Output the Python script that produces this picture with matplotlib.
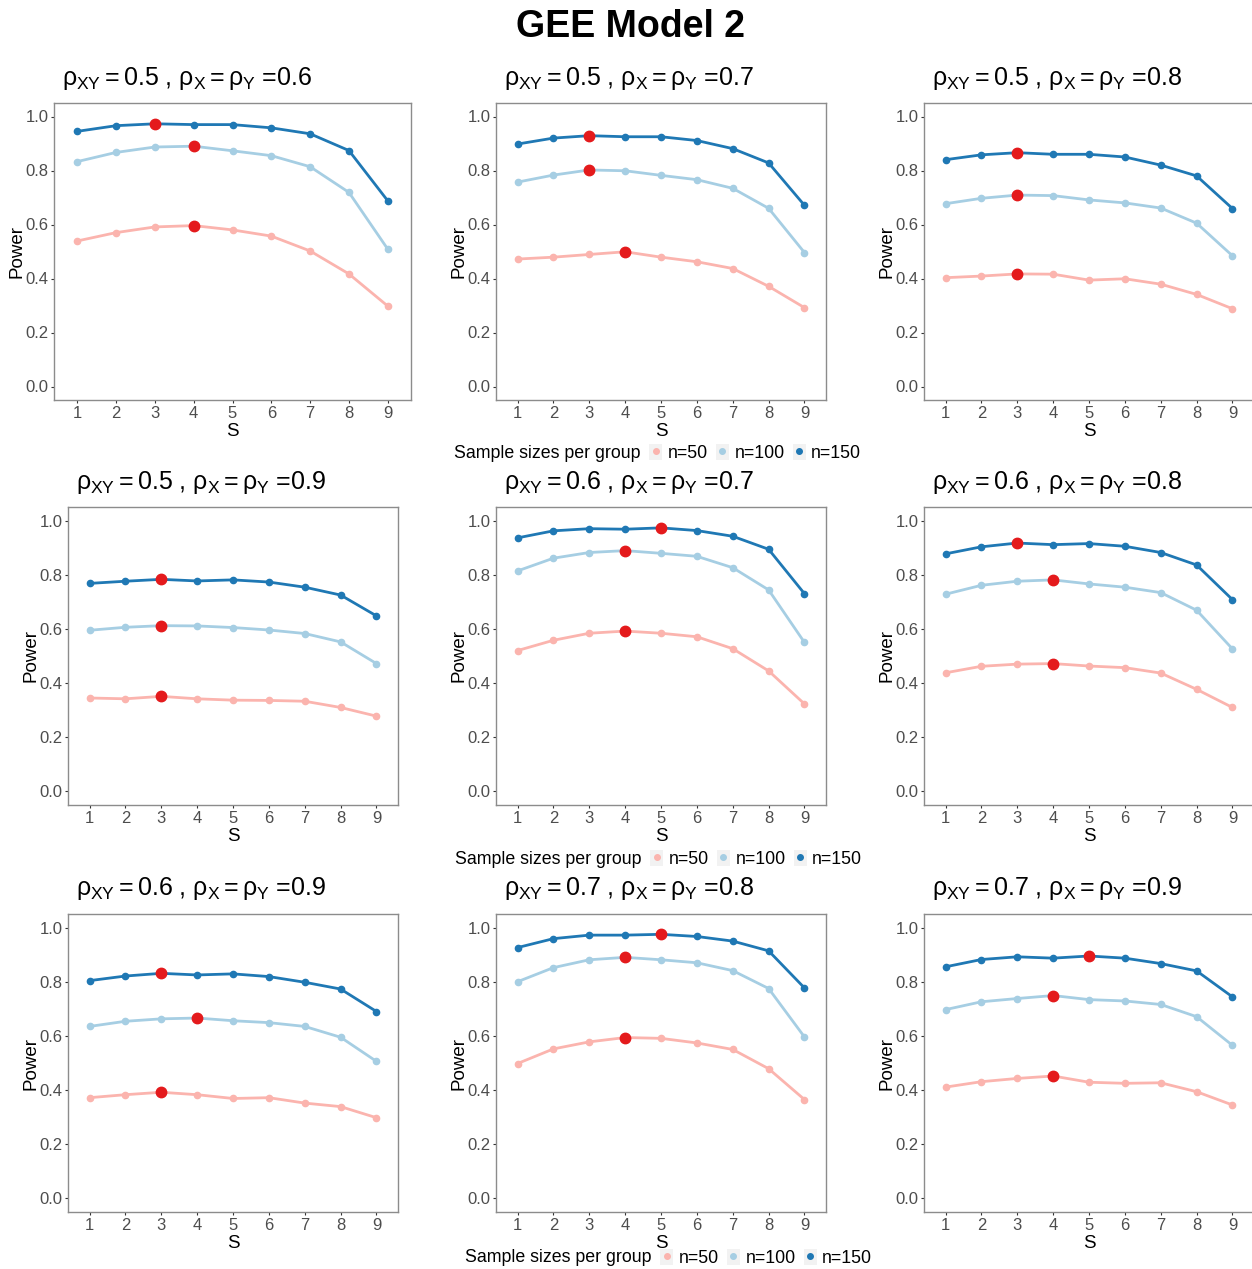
import matplotlib
matplotlib.use('Agg')
import matplotlib.pyplot as plt
from matplotlib.lines import Line2D
from matplotlib.patches import Patch
from matplotlib.legend_handler import HandlerTuple
import numpy as np

plt.rcParams['font.family'] = ['Liberation Sans', 'DejaVu Sans']
plt.rcParams['mathtext.fontset'] = 'custom'
plt.rcParams['mathtext.rm'] = 'Liberation Sans'
plt.rcParams['mathtext.it'] = 'Liberation Sans'
plt.rcParams['mathtext.bf'] = 'Liberation Sans:bold'

# data
S = [1, 2, 3, 4, 5, 6, 7, 8, 9]
sample_labels = ['n=50', 'n=100', 'n=150']
rho_xy = ['0.5', '0.5', '0.5', '0.5', '0.6', '0.6', '0.6', '0.7', '0.7']
rho_x = ['0.6', '0.7', '0.8', '0.9', '0.7', '0.8', '0.9', '0.8', '0.9']

power_n50 = [
    [0.539, 0.570, 0.591, 0.596, 0.580, 0.557, 0.502, 0.417, 0.298],
    [0.472, 0.479, 0.489, 0.499, 0.479, 0.462, 0.437, 0.371, 0.292],
    [0.403, 0.409, 0.417, 0.416, 0.394, 0.399, 0.379, 0.341, 0.288],
    [0.345, 0.342, 0.351, 0.342, 0.337, 0.336, 0.333, 0.310, 0.278],
    [0.520, 0.558, 0.584, 0.592, 0.584, 0.571, 0.527, 0.445, 0.323],
    [0.438, 0.462, 0.470, 0.472, 0.463, 0.457, 0.437, 0.377, 0.310],
    [0.372, 0.383, 0.392, 0.383, 0.369, 0.372, 0.352, 0.339, 0.298],
    [0.498, 0.552, 0.578, 0.594, 0.591, 0.574, 0.550, 0.479, 0.365],
    [0.411, 0.431, 0.443, 0.452, 0.429, 0.425, 0.427, 0.394, 0.345],
]
power_n100 = [
    [0.833, 0.867, 0.887, 0.890, 0.873, 0.855, 0.814, 0.719, 0.509],
    [0.757, 0.783, 0.802, 0.799, 0.782, 0.766, 0.734, 0.660, 0.496],
    [0.677, 0.697, 0.709, 0.707, 0.691, 0.680, 0.661, 0.605, 0.484],
    [0.595, 0.606, 0.612, 0.611, 0.605, 0.596, 0.583, 0.552, 0.472],
    [0.814, 0.861, 0.882, 0.889, 0.879, 0.868, 0.826, 0.744, 0.550],
    [0.728, 0.761, 0.776, 0.781, 0.766, 0.754, 0.734, 0.669, 0.526],
    [0.635, 0.654, 0.663, 0.666, 0.656, 0.649, 0.635, 0.595, 0.506],
    [0.800, 0.852, 0.881, 0.890, 0.881, 0.870, 0.841, 0.775, 0.596],
    [0.697, 0.726, 0.738, 0.749, 0.734, 0.729, 0.716, 0.671, 0.565],
]
power_n150 = [
    [0.945, 0.966, 0.973, 0.970, 0.970, 0.958, 0.936, 0.874, 0.688],
    [0.898, 0.920, 0.929, 0.925, 0.925, 0.911, 0.881, 0.828, 0.671],
    [0.840, 0.858, 0.866, 0.860, 0.860, 0.850, 0.820, 0.780, 0.659],
    [0.768, 0.776, 0.783, 0.777, 0.781, 0.773, 0.754, 0.725, 0.648],
    [0.936, 0.962, 0.970, 0.968, 0.973, 0.963, 0.942, 0.894, 0.730],
    [0.877, 0.903, 0.917, 0.911, 0.915, 0.905, 0.882, 0.836, 0.708],
    [0.804, 0.821, 0.831, 0.825, 0.829, 0.819, 0.798, 0.773, 0.690],
    [0.926, 0.959, 0.972, 0.972, 0.975, 0.967, 0.950, 0.914, 0.777],
    [0.855, 0.882, 0.892, 0.887, 0.895, 0.887, 0.867, 0.840, 0.744],
]
# S value highlighted in red for each panel (n=50, n=100, n=150)
best_S = [
    [4, 4, 3], [4, 3, 3], [3, 3, 3],
    [3, 3, 3], [4, 4, 5], [4, 4, 3],
    [3, 4, 3], [4, 4, 5], [4, 4, 5],
]

colors = ['#FBB4AE', '#A6CEE3', '#1F78B4']
highlight = '#E41A1C'

W, H = 1252, 1269
fig = plt.figure(figsize=(W / 100, H / 100), dpi=100)

def px_axes(left, top, right, bottom):
    return fig.add_axes([left / W, 1 - bottom / H, (right - left) / W, (bottom - top) / H])

# panel boxes in pixels: left, top, right, bottom
boxes = [
    (54, 103, 411, 400), (496, 103, 826, 400), (924, 103, 1254, 400),
    (68, 507, 398, 805), (496, 507, 826, 805), (924, 507, 1254, 805),
    (68, 914, 398, 1212), (496, 914, 826, 1212), (924, 914, 1254, 1212),
]

for i, box in enumerate(boxes):
    ax = px_axes(*box)
    series = [power_n50[i], power_n100[i], power_n150[i]]
    for k, y in enumerate(series):
        ax.plot(S, y, color=colors[k], lw=2.0, marker='o', ms=4.5, zorder=2 + k)
    for k, y in enumerate(series):
        j = S.index(best_S[i][k])
        ax.plot(S[j], y[j], 'o', color=highlight, ms=7.5, zorder=6)
    ax.set_xlim(0.4, 9.6)
    ax.set_ylim(-0.05, 1.05)
    ax.set_xticks(S)
    ax.set_yticks([0.0, 0.2, 0.4, 0.6, 0.8, 1.0])
    ax.set_yticklabels(['0.0', '0.2', '0.4', '0.6', '0.8', '1.0'])
    ax.tick_params(length=2.5, width=0.8, color='#333333', labelsize=12,
                   labelcolor='#4D4D4D', pad=1.5)
    for sp in ax.spines.values():
        sp.set_color('#8C8C8C')
        sp.set_linewidth(1.0)
    ax.set_xlabel('S', fontsize=13.5, labelpad=1.5)
    ax.set_ylabel('Power', fontsize=13.5, labelpad=0)
    title = r'$\rho_{XY} = $' + rho_xy[i] + r' , $\rho_X = \rho_Y$ =' + rho_x[i]
    fig.text((box[0] + 8) / W, 1 - (box[1] - 25) / H, title, fontsize=18,
             ha='left', va='center')

fig.text(631 / W, 1 - 27 / H, 'GEE Model 2', fontsize=27, fontweight='bold',
         ha='center', va='center')

handles = [(Patch(facecolor='#F2F2F2', edgecolor='none'),
            Line2D([], [], marker='o', ls='', color=c, ms=4))
           for c in colors]
for x0, yc in [(454, 453), (455, 859), (465, 1258)]:
    fig.text(x0 / W, 1 - yc / H, 'Sample sizes per group', fontsize=12.8,
             ha='left', va='center')
    fig.legend(handles, sample_labels, loc='center left',
               bbox_to_anchor=((x0 + 195) / W, 1 - yc / H), ncol=3,
               frameon=False, fontsize=12.8, handlelength=0.75, handleheight=1.0,
               handletextpad=0.3, columnspacing=0.45, borderpad=0,
               borderaxespad=0,
               handler_map={tuple: HandlerTuple(ndivide=1, pad=0)})

fig.savefig('out.png', dpi=100)
